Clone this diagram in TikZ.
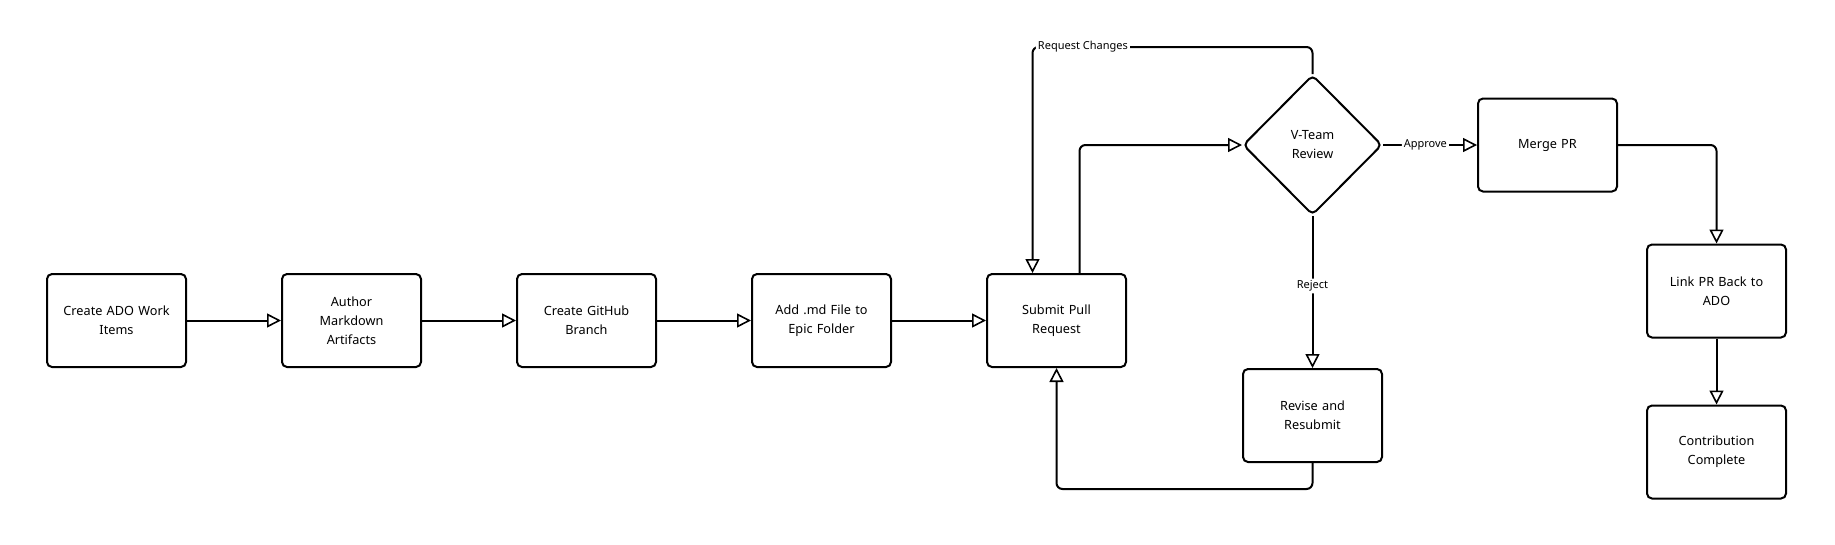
\documentclass[tikz,border=0pt]{standalone}
\usepackage{fontspec}
\setmainfont{Noto Sans}
\usepackage{tikz}
\usetikzlibrary{arrows.meta,positioning,shapes.geometric}

\begin{document}
\begin{tikzpicture}[
   x=1pt,y=-1pt,
   font=\fontsize{12.7}{19}\selectfont,
   box/.style={draw,rounded corners=5pt,align=center,line width=2pt,
     minimum width=139pt,minimum height=93pt,text width=115pt,inner sep=0pt},
   dec/.style={draw,diamond,rounded corners=5pt,align=center,line width=2pt,
     minimum width=139pt,minimum height=140pt,inner sep=0pt},
   lbl/.style={fill=white,inner sep=2pt,font=\fontsize{11}{13}\selectfont},
   flow/.style={line width=2pt,rounded corners=6pt,
     -{Triangle[length=14pt,width=14pt,fill=white,line width=1.6pt]}}]
 \useasboundingbox (0,0) rectangle (1835,544);
 \node[box] (ado) at (116.5,320.5) {Create ADO Work\\Items};
 \node[box,right=94pt of ado] (auth) {Author\\Markdown\\Artifacts};
 \node[box,right=94pt of auth] (branch) {Create GitHub\\Branch};
 \node[box,right=94pt of branch] (md) {Add .md File to\\Epic Folder};
 \node[box,right=94pt of md] (sub) {Submit Pull\\Request};
 \node[dec] (vt) at (1312.5,145) {V-Team\\Review};
 \node[box,below=152pt of vt] (rev) {Revise and\\Resubmit};
 \node[box,right=94pt of vt] (merge) {Merge PR};
 \node[box] (link) at (1716.5,291) {Link PR Back to\\ADO};
 \node[box,below=66pt of link] (done) {Contribution\\Complete};
 \draw[flow] (ado) -- (auth);
 \draw[flow] (auth) -- (branch);
 \draw[flow] (branch) -- (md);
 \draw[flow] (md) -- (sub);
 \draw[flow] ([xshift=23pt]sub.north) |- (vt.west);
 \draw[flow] (vt.north) -- ++(0,-27) -| node[lbl,pos=0.41]{Request Changes} ([xshift=-24pt]sub.north);
 \draw[flow] (vt.east) -- node[lbl,pos=0.45]{Approve} (merge.west);
 \draw[flow] (vt.south) -- node[lbl,pos=0.46]{Reject} (rev.north);
 \draw[flow] (rev.south) -- ++(0,26) -| (sub.south);
 \draw[flow] (merge.east) -| (link.north);
 \draw[flow] (link) -- (done);
\end{tikzpicture}
\end{document}
